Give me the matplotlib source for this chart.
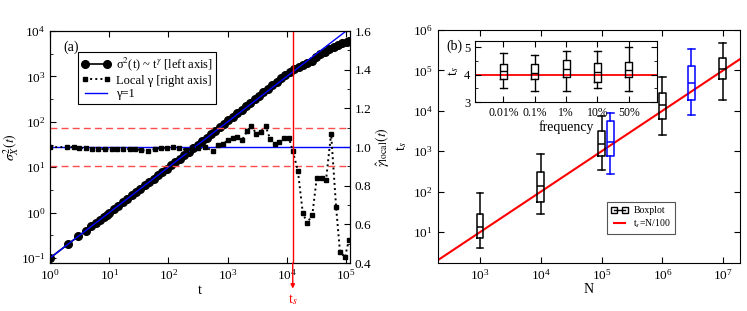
import matplotlib
matplotlib.use("Agg")
import matplotlib.pyplot as plt
import matplotlib.ticker as tick
from matplotlib.lines import Line2D

plt.rcParams['font.family'] = ['Liberation Serif', 'DejaVu Serif']
plt.rcParams['mathtext.fontset'] = 'stix'
plt.rcParams['xtick.direction'] = 'in'
plt.rcParams['ytick.direction'] = 'in'

# ---- panel (a): variance and local exponent ----
t_sigma = [1, 2, 3, 4, 5, 6, 7, 8, 9, 10, 12, 14, 17, 20, 24, 28, 33, 40, 47, 56,
           66, 78, 93, 110, 130, 155, 185, 220, 260, 310, 370, 440, 520, 620, 730,
           870, 1030, 1220, 1450, 1720, 2040, 2420, 2870, 3400, 4030, 4780, 5670,
           6720, 7970, 9450, 11200, 13300, 15800, 18700, 22200, 26300, 31200,
           37000, 43900, 52000, 61700, 73200, 86800, 103000, 112000]
sigma2 = [0.1, 0.2, 0.3, 0.4, 0.5, 0.6, 0.7, 0.8, 0.9, 1.0, 1.2, 1.4, 1.7, 2.0,
          2.4, 2.8, 3.3, 4.0, 4.7, 5.6, 6.6, 7.8, 9.3, 11, 13, 15.5, 18.5, 22, 26,
          31, 37.5, 45, 53.5, 64, 76, 91, 108, 129, 155, 185, 221, 264, 315, 376,
          448, 534, 637, 760, 905, 1075, 1265, 1430, 1590, 1750, 1940, 2200, 2650,
          3050, 3500, 3950, 4450, 4950, 5400, 5800, 6000]

t_gamma = [1, 1.9, 2.5, 3.1, 4, 5.2, 6.5, 8.5, 11, 13.7, 17, 22, 27, 35, 46, 59,
           74, 93, 121, 152, 198, 247, 320, 415, 566, 690, 840, 1000, 1230, 1440,
           1750, 2130, 2500, 3040, 3660, 4370, 5240, 6330, 7380, 8960, 10900,
           12600, 15400, 18600, 22000, 27000, 32000, 39000, 46000, 56000, 68000,
           79000, 96000, 112000]
gamma_local = [1.0, 1.0, 1.0, 0.995, 0.995, 0.99, 0.99, 0.99, 0.99, 0.99, 0.99,
               0.99, 0.99, 0.985, 0.98, 0.99, 0.995, 0.995, 1.0, 0.995, 0.985,
               0.99, 0.995, 1.0, 0.98, 1.01, 1.015, 1.036, 1.046, 1.05, 1.036,
               1.083, 1.11, 1.07, 1.08, 1.11, 1.04, 1.015, 1.026, 1.046, 1.046,
               0.98, 0.876, 0.66, 0.607, 0.65, 0.84, 0.84, 0.83, 1.07, 0.69, 0.46,
               0.43, 0.52]
t_sat = 1.26e4
gamma_band = [0.9, 1.1]

# ---- panel (b): saturation time vs N ----
N_black = [1e3, 1e4, 1e5, 1e6, 1e7]
black_whislo = [4, 28, 350, 2500, 19000]
black_q1 = [7, 56, 740, 6300, 60000]
black_med = [13, 140, 1500, 14000, 107000]
black_q3 = [28, 300, 3100, 27000, 200000]
black_whishi = [95, 850, 7500, 67000, 480000]

N_blue = [1.4e5, 3e6]
blue_whislo = [280, 8000]
blue_q1 = [740, 19000]
blue_med = [1700, 48000]
blue_q3 = [5600, 126000]
blue_whishi = [9000, 340000]

N_line = [200, 1.9e7]

# ---- inset: log10 t_s vs frequency ----
freq_labels = ['0.01%', '0.1%', '1%', '10%', '50%']
ins_whislo = [3.5, 3.4, 3.4, 3.5, 3.4]
ins_q1 = [3.84, 3.84, 3.9, 3.73, 3.9]
ins_med = [4.13, 4.07, 4.22, 4.1, 4.18]
ins_q3 = [4.38, 4.38, 4.53, 4.43, 4.45]
ins_whishi = [4.78, 4.7, 4.85, 4.85, 5.0]
ins_ref = 4.0


def make_stats(lo, q1, med, q3, hi):
    return [dict(whislo=a, q1=b, med=c, q3=d, whishi=e, fliers=[])
            for a, b, c, d, e in zip(lo, q1, med, q3, hi)]


fig = plt.figure(figsize=(7.47, 3.11), dpi=100)
ax = fig.add_axes([0.067, 0.154, 0.4016, 0.746])
ax2 = ax.twinx()

ax.set_xscale('log')
ax.set_yscale('log')
l1, = ax.plot(t_sigma, sigma2, '-', color='k', marker='o', ms=5.5, lw=1.2, zorder=2)
ax.plot([1, 1.2e5], [0.1, 1.2e4], color='#0000ff', lw=1.0, zorder=3)
ax.set_xlim(1, 1.17e5)
ax.set_ylim(0.077, 1e4)
ax.yaxis.set_minor_locator(tick.LogLocator(base=10, subs=(10 ** 0.5,), numticks=20))
ax.yaxis.set_minor_formatter(tick.NullFormatter())
ax.xaxis.set_minor_locator(tick.NullLocator())
ax.tick_params(which='both', top=True, labelsize=9.5)
ax.tick_params(which='major', length=4)
ax.tick_params(which='minor', length=2)
ax.set_xlabel('t', fontsize=10, labelpad=1)
ax.set_ylabel(r'$\sigma^2_X(t)$', fontsize=10, labelpad=0)

ax2.set_ylim(0.4, 1.6)
for g in gamma_band:
    ax2.axhline(g, color='#ff4d4d', lw=1.0, ls=(0, (5, 3)))
l3 = ax2.axhline(1.0, color='#0000ff', lw=1.0)
l2, = ax2.plot(t_gamma, gamma_local, ':', color='k', marker='s', ms=3.5, lw=1.4)
ax2.yaxis.set_major_locator(tick.MultipleLocator(0.2))
ax2.yaxis.set_minor_locator(tick.MultipleLocator(0.1))
ax2.yaxis.set_major_formatter(tick.FormatStrFormatter('%.1f'))
ax2.tick_params(which='both', labelsize=9.5)
ax2.tick_params(which='major', length=4)
ax2.tick_params(which='minor', length=2)
ax2.set_ylabel(r'$\hat{\gamma}_{\rm local}(t)$', fontsize=10, labelpad=1)

ax2.axvline(t_sat, color='red', lw=1.0)
ax2.annotate('', xy=(t_sat, -0.11), xycoords=ax2.get_xaxis_transform(),
             xytext=(t_sat, 0.0), textcoords=ax2.get_xaxis_transform(),
             arrowprops=dict(arrowstyle='-|>', color='red', lw=1.0,
                             mutation_scale=6, shrinkA=0, shrinkB=0),
             annotation_clip=False)
ax2.text(t_sat, -0.125, r't$_s$', color='red', fontsize=10, ha='center', va='top',
         transform=ax2.get_xaxis_transform())

ax.text(0.043, 0.93, '(a)', transform=ax.transAxes, fontsize=10, va='center')
leg = ax2.legend([l1, l2, l3],
                 [r'σ$^2$(t) ~ t$^{\gamma}$ [left axis]', 'Local γ [right axis]', 'γ=1'],
                 loc='upper left', bbox_to_anchor=(0.093, 0.91), borderaxespad=0,
                 fontsize=9, numpoints=2, fancybox=False, framealpha=1,
                 edgecolor='k', handlelength=2.4, borderpad=0.25, labelspacing=0.15,
                 handletextpad=0.4)
leg.get_frame().set_linewidth(0.8)

# ---- panel (b) ----
axb = fig.add_axes([0.586, 0.154, 0.4046, 0.7495])
axb.set_xscale('log')
axb.set_yscale('log')
axb.plot(N_line, [n / 100 for n in N_line], color='red', lw=1.5, zorder=1)

k = 0.26
for pos, st, col in [(N_black, make_stats(black_whislo, black_q1, black_med, black_q3, black_whishi), 'k'),
                     (N_blue, make_stats(blue_whislo, blue_q1, blue_med, blue_q3, blue_whishi), '#0000ff')]:
    w = [p * k for p in pos]
    lp = dict(color=col, lw=1.1)
    axb.bxp(st, positions=pos, widths=w, capwidths=w, manage_ticks=False,
            showfliers=False, boxprops=lp, whiskerprops=lp, capprops=lp,
            medianprops=dict(color=col, lw=1.1), zorder=2)

axb.set_xlim(200, 1.9e7)
axb.set_ylim(1.7, 1e6)
axb.xaxis.set_major_locator(tick.LogLocator(base=10, numticks=20))
axb.xaxis.set_minor_locator(tick.NullLocator())
axb.yaxis.set_minor_locator(tick.NullLocator())
axb.tick_params(which='both', top=True, right=True, labelsize=9.5, length=4)
axb.set_xlabel('N', fontsize=10, labelpad=0)
axb.set_ylabel(r't$_s$', fontsize=10, labelpad=3)
axb.text(0.028, 0.93, '(b)', transform=axb.transAxes, fontsize=10, va='center')

hb = Line2D([], [], color='k', lw=1.0, marker='s', ms=5, mfc='none', mec='k')
hr = Line2D([], [], color='red', lw=1.5)
legb = axb.legend([hb, hr], ['Boxplot', r't$_s$=N/100'], loc='upper left',
                  bbox_to_anchor=(0.56, 0.262), borderaxespad=0, fontsize=7,
                  numpoints=2, fancybox=False, framealpha=1, edgecolor='#555555',
                  handlelength=1.8, borderpad=0.4, labelspacing=0.3,
                  handletextpad=0.5)
legb.get_frame().set_linewidth(0.8)

# ---- inset ----
axi = fig.add_axes([0.636, 0.672, 0.2436, 0.196])
pos_i = list(range(1, len(freq_labels) + 1))
lp = dict(color='k', lw=1.0)
axi.bxp(make_stats(ins_whislo, ins_q1, ins_med, ins_q3, ins_whishi), positions=pos_i,
        widths=0.22, capwidths=0.22, manage_ticks=False, showfliers=False,
        boxprops=lp, whiskerprops=lp, capprops=lp, medianprops=dict(color='k', lw=1.0))
axi.axhline(ins_ref, color='red', lw=1.3, zorder=0)
axi.set_xlim(0.1, 5.9)
axi.set_ylim(3, 5.22)
axi.set_xticks(pos_i)
axi.set_xticklabels(freq_labels)
axi.yaxis.set_major_locator(tick.MultipleLocator(1))
axi.yaxis.set_minor_locator(tick.MultipleLocator(0.5))
axi.tick_params(which='both', top=True, right=True, labelsize=9)
axi.tick_params(axis='x', labelsize=8.5)
axi.tick_params(which='major', length=4)
axi.tick_params(which='minor', length=2)
axi.set_xlabel('frequency', fontsize=10, labelpad=1)
axi.set_ylabel(r't$_s$', fontsize=10, labelpad=2)

fig.savefig('out.png', dpi=100)
